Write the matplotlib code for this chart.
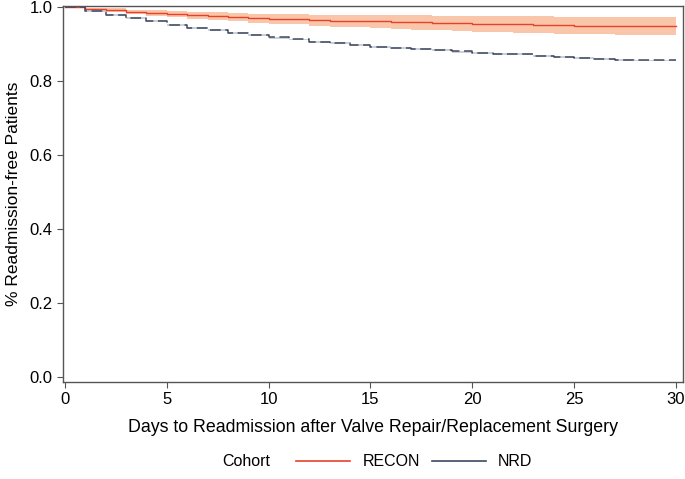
import matplotlib
matplotlib.use("Agg")
import matplotlib.pyplot as plt
from matplotlib.lines import Line2D

plt.rcParams["font.family"] = ["Liberation Sans", "DejaVu Sans"]

# day index (step starts), survival estimates
days = list(range(0, 31))
recon = [1.000, 0.995, 0.992, 0.987, 0.984, 0.981, 0.978, 0.976, 0.973, 0.970,
         0.968, 0.967, 0.965, 0.963, 0.963, 0.962, 0.960, 0.959, 0.957, 0.956,
         0.955, 0.954, 0.953, 0.952, 0.951, 0.950, 0.950, 0.949, 0.949, 0.949, 0.949]
recon_lo = [1.000, 0.992, 0.987, 0.981, 0.977, 0.973, 0.969, 0.966, 0.962, 0.958,
            0.955, 0.953, 0.950, 0.947, 0.946, 0.944, 0.941, 0.939, 0.937, 0.935,
            0.933, 0.932, 0.930, 0.929, 0.928, 0.927, 0.926, 0.925, 0.924, 0.924, 0.924]
recon_hi = [1.000, 0.998, 0.997, 0.993, 0.991, 0.989, 0.987, 0.986, 0.984, 0.982,
            0.981, 0.981, 0.980, 0.979, 0.980, 0.980, 0.979, 0.979, 0.977, 0.977,
            0.977, 0.976, 0.976, 0.975, 0.974, 0.974, 0.974, 0.973, 0.974, 0.974, 0.974]
nrd = [1.000, 0.990, 0.980, 0.971, 0.962, 0.952, 0.944, 0.938, 0.931, 0.924,
       0.918, 0.913, 0.907, 0.903, 0.898, 0.893, 0.890, 0.887, 0.884, 0.880,
       0.876, 0.874, 0.873, 0.869, 0.866, 0.863, 0.860, 0.858, 0.856, 0.856, 0.856]
nrd_lo = [v - 0.003 for v in nrd]
nrd_hi = [v + 0.002 for v in nrd]

x_ticks = [0, 5, 10, 15, 20, 25, 30]
y_ticks = [0.0, 0.2, 0.4, 0.6, 0.8, 1.0]

red = "#E8412B"
peach = "#F9C6AA"
navy = "#3E4A63"
gray = "#CDD0D6"

fig = plt.figure(figsize=(6.85, 4.79), dpi=100)
ax = fig.add_axes([63 / 685, 1 - 382 / 479, 620 / 685, 376 / 479])

ax.fill_between(days, recon_lo, recon_hi, step="post", color=peach, linewidth=0)
ax.step(days, recon, where="post", color=red, linewidth=1.0)
ax.fill_between(days, nrd_lo, nrd_hi, step="post", color=gray, linewidth=0)
ax.step(days, nrd, where="post", color=navy, linewidth=1.1, linestyle=(0, (7, 3)))

ax.set_xlim(-0.1, 30.35)
ax.set_ylim(-0.0135, 1.003)
ax.set_xticks(x_ticks)
ax.set_yticks(y_ticks)
ax.set_yticklabels([f"{v:.1f}" for v in y_ticks])
ax.tick_params(direction="out", length=4, width=0.8, color="#555555", labelsize=12)
for s in ax.spines.values():
    s.set_color("#555555")
    s.set_linewidth(1.0)

ax.set_xlabel("Days to Readmission after Valve Repair/Replacement Surgery", fontsize=12.8, labelpad=8)
ax.set_ylabel("% Readmission-free Patients", fontsize=12.5, labelpad=6)

fig.text(222 / 685, 1 - 462 / 479, "Cohort", fontsize=11.5, va="center")
handles = [Line2D([], [], color=red, linewidth=1.2), Line2D([], [], color=navy, linewidth=1.2)]
fig.legend(handles, ["RECON", "NRD"], loc="center left", bbox_to_anchor=(288 / 685, 1 - 462 / 479),
           ncol=2, frameon=False, fontsize=11.5, handlelength=3.4, columnspacing=0.75,
           handletextpad=0.75, borderpad=0.0)

fig.savefig("out.png", dpi=100)
